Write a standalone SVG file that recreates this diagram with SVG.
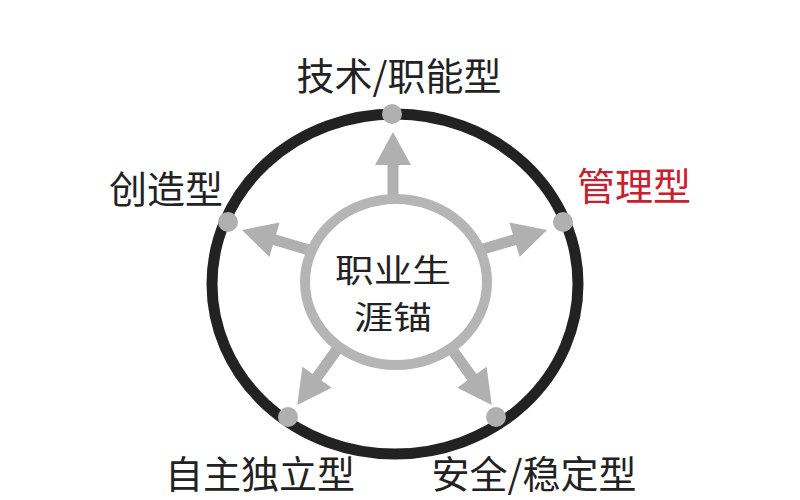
<svg xmlns="http://www.w3.org/2000/svg" width="800" height="500" viewBox="0 0 800 500">
<defs>
<style>
.lbl{font-family:"Noto Sans CJK SC","Liberation Sans",sans-serif;font-size:38px;fill:#222;text-anchor:middle}
.ctr{font-size:32px}
.red{fill:#c8202e}
.dot{fill:#b0b0b0}
.arrow{fill:#b0b0b0}
</style>
<path id="arr" d="M0,-5.5 L36,-5.5 L36,-18 L70,0 L36,18 L36,5.5 L0,5.5 Z"/>
</defs>
<rect width="800" height="500" fill="#fff"/>
<g id="outer-ring">
<ellipse cx="395" cy="284" rx="183" ry="170" fill="none" stroke="#222" stroke-width="11"/>
</g>
<g id="connectors">
<use href="#arr" class="arrow" transform="translate(393,200) rotate(-90) scale(0.97,1)"/>
<use href="#arr" class="arrow" transform="translate(480,250) rotate(-16.6)"/>
<use href="#arr" class="arrow" transform="translate(309,250) rotate(-163.4)"/>
<use href="#arr" class="arrow" transform="translate(338,348) rotate(125.6)"/>
<use href="#arr" class="arrow" transform="translate(451,348) rotate(54.4)"/>
</g>
<g id="center">
<ellipse cx="396" cy="282" rx="91" ry="83" fill="#fff" stroke="#b5b5b5" stroke-width="10"/>
<text class="lbl ctr" x="393" y="282" textLength="116" lengthAdjust="spacingAndGlyphs">职业生</text>
<text class="lbl ctr" x="393" y="329" textLength="78" lengthAdjust="spacingAndGlyphs">涯锚</text>
</g>
<g id="node-tech">
<circle class="dot" cx="392" cy="114" r="10"/>
<text class="lbl" x="399" y="90">技术/职能型</text>
</g>
<g id="node-manage">
<circle class="dot" cx="563" cy="222" r="10"/>
<text class="lbl red" x="634" y="200">管理型</text>
</g>
<g id="node-create">
<circle class="dot" cx="228" cy="222" r="10"/>
<text class="lbl" x="166" y="203">创造型</text>
</g>
<g id="node-auto">
<circle class="dot" cx="288" cy="417" r="10"/>
<text class="lbl" x="260" y="488">自主独立型</text>
</g>
<g id="node-safe">
<circle class="dot" cx="496" cy="417" r="10"/>
<text class="lbl" x="534" y="488">安全/稳定型</text>
</g>
</svg>
